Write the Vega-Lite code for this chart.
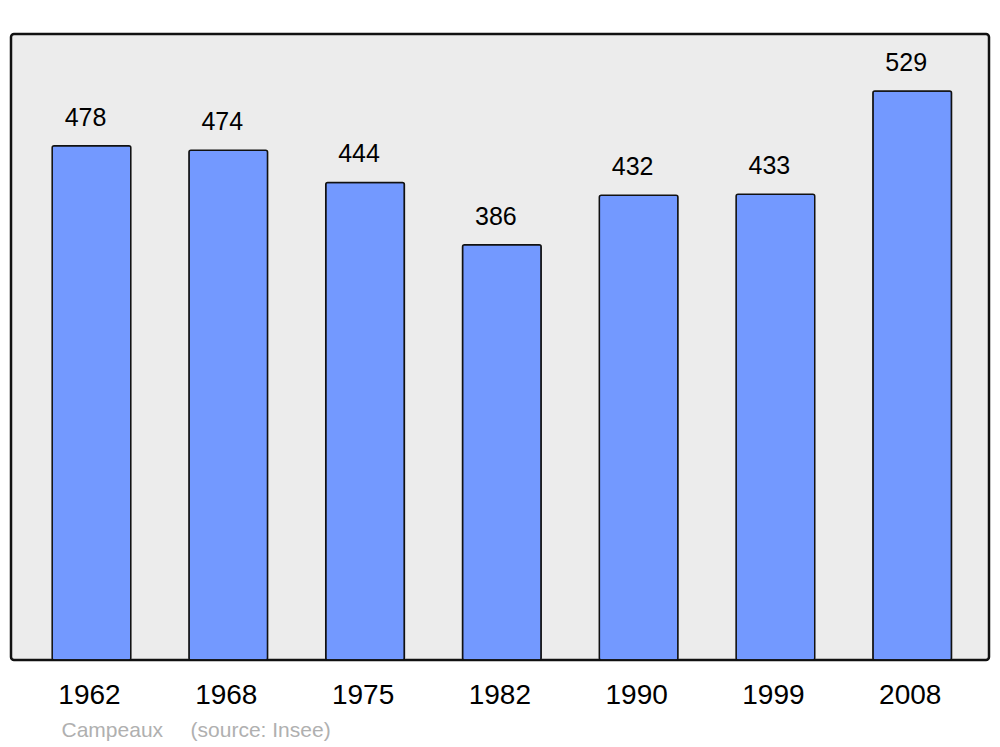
{
  "$schema": "https://vega.github.io/schema/vega-lite/v6.json",
  "width": 978,
  "height": 626,
  "autosize": {"type": "none"},
  "padding": {"left": 11, "top": 34, "right": 11, "bottom": 87},
  "background": "white",
  "config": {
    "font": "Liberation Sans",
    "view": {"fill": "#ececec", "stroke": "#111111", "strokeWidth": 2.5, "cornerRadius": 3}
  },
  "data": {
    "values": [
      {"year": "1962", "pop": 478},
      {"year": "1968", "pop": 474},
      {"year": "1975", "pop": 444},
      {"year": "1982", "pop": 386},
      {"year": "1990", "pop": 432},
      {"year": "1999", "pop": 433},
      {"year": "2008", "pop": 529}
    ]
  },
  "encoding": {
    "x": {
      "field": "year",
      "type": "ordinal",
      "sort": null,
      "scale": {"range": [12.1, 969.6], "paddingInner": 0.425, "paddingOuter": 0.2125},
      "axis": {
        "domain": false,
        "ticks": false,
        "grid": false,
        "labelAngle": 0,
        "labelFontSize": 28,
        "labelColor": "#000000",
        "labelFont": "Liberation Sans",
        "labelPadding": 21,
        "labelOffset": -2,
        "title": "Campeaux\u00a0\u00a0\u00a0\u00a0\u2009(source: Insee)",
        "titleFont": "Liberation Sans",
        "titleFontWeight": "normal",
        "titleFontSize": 21,
        "titleColor": "#b0b0b0",
        "titleAlign": "left",
        "titleAnchor": "start",
        "titleBaseline": "middle",
        "titleX": 50,
        "titleY": 70
      }
    },
    "y": {
      "field": "pop",
      "type": "quantitative",
      "scale": {"domain": [0, 582], "nice": false, "zero": true},
      "axis": null
    }
  },
  "layer": [
    {
      "mark": {"type": "bar", "fill": "#7399ff", "stroke": "#111111", "strokeWidth": 1.5, "cornerRadius": 2}
    },
    {
      "mark": {"type": "text", "fontSize": 25, "color": "#000000", "baseline": "alphabetic", "align": "center", "dy": -20, "dx": -6},
      "encoding": {"text": {"field": "pop", "type": "quantitative"}}
    }
  ]
}
